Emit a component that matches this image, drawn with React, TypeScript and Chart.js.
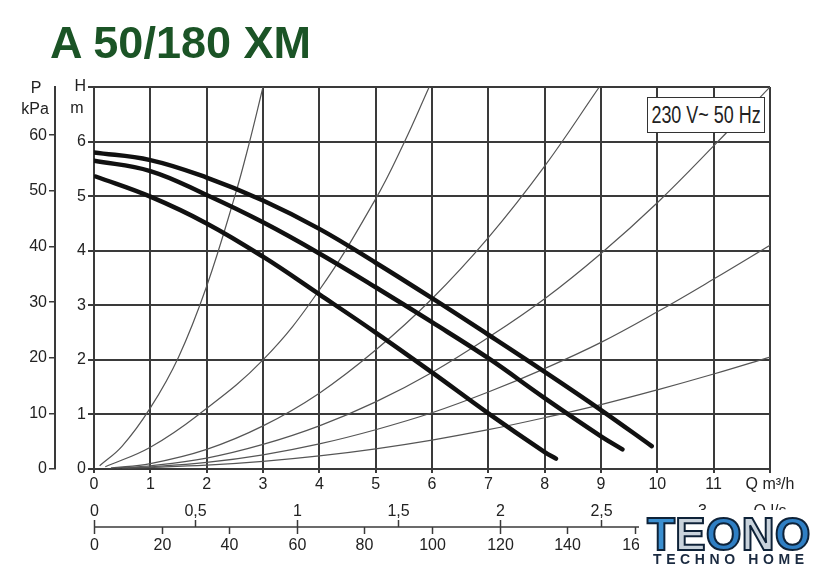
import React, { useEffect, useRef } from 'react';
import { Chart, registerables } from 'chart.js';

Chart.register(...registerables);

const FONT = '"Liberation Sans", Arial, Helvetica, sans-serif';
const TEXT = '#222';
const GRID = '#3a3a3a';

// Axis ticks
const flowTicks = [0, 1, 2, 3, 4, 5, 6, 7, 8, 9, 10, 11, 12]; // m³/h
const headTicks = [0, 1, 2, 3, 4, 5, 6, 7]; // m
const pressureTicks = [0, 10, 20, 30, 40, 50, 60]; // kPa
const litrePerSecTicks = [0, 0.5, 1, 1.5, 2, 2.5, 3];
const litrePerMinTicks = [0, 20, 40, 60, 80, 100, 120, 140, 160, 180];

// Pump curves: [Q m³/h, H m]
const pumpSpeed3: [number, number][] = [
  [0, 5.8], [1, 5.66], [2, 5.34], [3, 4.92], [4, 4.4], [5, 3.78],
  [6, 3.13], [7, 2.46], [8, 1.78], [9, 1.08], [9.9, 0.42],
];
const pumpSpeed2: [number, number][] = [
  [0, 5.65], [1, 5.46], [2, 5.02], [3, 4.52], [4, 3.95], [5, 3.33],
  [6, 2.69], [7, 2.03], [8, 1.3], [9, 0.6], [9.38, 0.36],
];
const pumpSpeed1: [number, number][] = [
  [0.03, 5.36], [1, 4.99], [2, 4.5], [3, 3.89], [4, 3.2], [5, 2.5],
  [6, 1.77], [7, 1.02], [8, 0.31], [8.2, 0.19],
];

// System curves (thin)
const system1: [number, number][] = [
  [0.1, 0.06], [0.5, 0.42], [1, 1.12], [1.5, 2.05], [2, 3.35], [2.5, 5.0], [2.75, 5.95], [3.0, 7.0],
];
const system2: [number, number][] = [
  [0.2, 0.04], [1, 0.4], [1.86, 1.0], [3, 2.0], [4, 3.28], [5, 4.95], [5.5, 5.97], [5.95, 7.0],
];
const system3: [number, number][] = [
  [0.3, 0.02], [1, 0.1], [2, 0.36], [3, 0.79], [4, 1.39], [5, 2.18], [6, 3.12], [7, 4.24], [8, 5.55], [8.97, 7.0],
];
const system4: [number, number][] = [
  [0.4, 0.02], [1, 0.06], [2, 0.2], [3, 0.45], [4, 0.79], [5, 1.23], [6, 1.77],
  [7, 2.41], [8, 3.12], [9, 3.95], [10, 4.88], [11, 5.92], [12, 7.0],
];
const system5: [number, number][] = [
  [0.5, 0.02], [1, 0.04], [2, 0.12], [3, 0.26], [4, 0.46], [5, 0.72], [6, 1.03],
  [7, 1.41], [8, 1.84], [9, 2.32], [10, 2.88], [11, 3.48], [12, 4.1],
];
const system6: [number, number][] = [
  [0.6, 0.02], [1, 0.03], [2, 0.07], [3, 0.14], [4, 0.24], [5, 0.37], [6, 0.53],
  [7, 0.72], [8, 0.94], [9, 1.18], [10, 1.45], [11, 1.74], [12, 2.05],
];

const pumpCurves = [pumpSpeed3, pumpSpeed2, pumpSpeed1];
const systemCurves = [system1, system2, system3, system4, system5, system6];

const M3H_PER_LS = 3.6;
const KPA_PER_M = 9.81;

const toXY = (pts: [number, number][]) => pts.map(([x, y]) => ({ x, y }));
const fmt = (v: number) => String(v).replace('.', ',');

const extrasPlugin = {
  id: 'extras',
  afterDraw(chart: any) {
    const { ctx, chartArea } = chart;
    const xs = chart.scales.x;
    const ys = chart.scales.y;
    const ps = chart.scales.p;
    ctx.save();
    ctx.fillStyle = TEXT;
    ctx.strokeStyle = GRID;
    ctx.font = `16px ${FONT}`;
    ctx.textAlign = 'center';
    ctx.textBaseline = 'alphabetic';
    const top = ys.getPixelForValue(7);
    ctx.fillText('P', ps.right - 19, top + 6);
    ctx.fillText('kPa', ps.right - 20, top + 27);
    ctx.fillText('m', ys.right - 17, top + 26);

    const lineY = chartArea.bottom + 58;
    ctx.lineWidth = 1.5;
    ctx.beginPath();
    ctx.moveTo(xs.getPixelForValue(0), lineY);
    ctx.lineTo(xs.getPixelForValue(12), lineY);
    ctx.stroke();

    litrePerSecTicks.forEach((v) => {
      const px = Math.round(xs.getPixelForValue(v * M3H_PER_LS)) + 0.5;
      ctx.beginPath();
      ctx.moveTo(px, lineY);
      ctx.lineTo(px, lineY - 7);
      ctx.stroke();
      ctx.fillText(fmt(v), px, lineY - 11);
    });
    ctx.fillText('Q l/s', xs.getPixelForValue(12), lineY - 11);

    litrePerMinTicks.forEach((v) => {
      const px = Math.round(xs.getPixelForValue((v * M3H_PER_LS) / 60)) + 0.5;
      ctx.beginPath();
      ctx.moveTo(px, lineY);
      ctx.lineTo(px, lineY + 7);
      ctx.stroke();
      ctx.fillText(String(v), px, lineY + 23);
    });
    ctx.restore();
  },
};

export default function App() {
  const canvasRef = useRef<HTMLCanvasElement | null>(null);

  useEffect(() => {
    if (!canvasRef.current) return;
    const tickFont = { family: FONT, size: 16 };
    const chart = new Chart(canvasRef.current, {
      type: 'line',
      data: {
        datasets: [
          ...pumpCurves.map((pts) => ({
            data: toXY(pts),
            borderColor: '#111',
            borderWidth: 4.5,
            pointRadius: 0,
            tension: 0.4,
            borderCapStyle: 'round' as const,
            fill: false,
            order: 0,
          })),
          ...systemCurves.map((pts) => ({
            data: toXY(pts),
            borderColor: '#555',
            borderWidth: 1.2,
            pointRadius: 0,
            tension: 0.4,
            fill: false,
            order: 1,
          })),
        ],
      },
      options: {
        responsive: false,
        animation: false,
        devicePixelRatio: 1,
        layout: { padding: { top: 87, right: 51, bottom: 0, left: 0 } },
        plugins: { legend: { display: false }, tooltip: { enabled: false }, title: { display: false } },
        scales: {
          x: {
            type: 'linear',
            position: 'bottom',
            min: 0,
            max: 12,
            afterBuildTicks: (s: any) => {
              s.ticks = flowTicks.map((v) => ({ value: v }));
            },
            afterFit: (s: any) => {
              s.height = 107;
            },
            ticks: {
              autoSkip: false,
              maxRotation: 0,
              padding: 2,
              color: TEXT,
              font: tickFont,
              callback: (v: any) => (v === 12 ? 'Q m³/h' : String(v)),
            },
            grid: { color: GRID, lineWidth: 2, tickLength: 4 },
            border: { color: GRID, width: 2 },
          },
          y: {
            type: 'linear',
            position: 'left',
            weight: 0,
            min: 0,
            max: 7,
            afterBuildTicks: (s: any) => {
              s.ticks = headTicks.map((v) => ({ value: v }));
            },
            afterFit: (s: any) => {
              s.width = 39;
            },
            ticks: {
              autoSkip: false,
              padding: 2,
              color: TEXT,
              font: tickFont,
              callback: (v: any) => (v === 7 ? 'H' : String(v)),
            },
            grid: { color: GRID, lineWidth: 2, tickLength: 6 },
            border: { color: GRID, width: 2 },
          },
          p: {
            type: 'linear',
            position: 'left',
            weight: 1,
            min: 0,
            max: 7 * KPA_PER_M,
            afterBuildTicks: (s: any) => {
              s.ticks = pressureTicks.map((v) => ({ value: v }));
            },
            afterFit: (s: any) => {
              s.width = 55;
            },
            ticks: { autoSkip: false, padding: 2, color: TEXT, font: tickFont },
            grid: { drawOnChartArea: false, color: GRID, lineWidth: 1.5, tickLength: 6 },
            border: { color: GRID, width: 2 },
          },
        },
      },
      plugins: [extrasPlugin],
    } as any);
    return () => chart.destroy();
  }, []);

  return (
    <div style={{ position: 'fixed', left: 0, top: 0, width: 821, height: 576, background: '#fff', overflow: 'hidden' }}>
      <canvas ref={canvasRef} width={821} height={576} style={{ position: 'absolute', left: 0, top: 0, display: 'block' }} />
      <div
        style={{
          position: 'absolute', left: 50, top: 20, fontFamily: FONT, fontWeight: 700,
          fontSize: 45, lineHeight: '45px', color: '#1b5426', whiteSpace: 'nowrap',
        }}
      >
        A 50/180 XM
      </div>
      <div
        style={{
          position: 'absolute', left: 647, top: 97, width: 116, height: 34, border: '1px solid #333',
          background: '#fff', display: 'flex', alignItems: 'center', justifyContent: 'center', overflow: 'hidden',
        }}
      >
        <span style={{ fontFamily: FONT, fontSize: 23, color: '#222', transform: 'scaleX(0.78)', whiteSpace: 'nowrap', display: 'inline-block' }}>
          230 V~ 50 Hz
        </span>
      </div>
      <div style={{ position: 'absolute', left: 639, top: 510, width: 182, height: 66, background: '#fff' }}>
        <div
          style={{
            position: 'absolute', left: 8, top: 1, fontFamily: FONT, fontWeight: 700, fontSize: 46,
            lineHeight: '46px', whiteSpace: 'nowrap', WebkitTextStroke: '2px #0e2238',
          }}
        >
          <span style={{ color: '#3b8fd0' }}>T</span>
          <span style={{ color: '#c9d3dc' }}>E</span>
          <span style={{ color: '#2f7fc4' }}>O</span>
          <span style={{ color: '#c9d3dc' }}>N</span>
          <span style={{ color: '#2f7fc4' }}>O</span>
        </div>
        <div
          style={{
            position: 'absolute', left: 14, top: 42, fontFamily: FONT, fontWeight: 700, fontSize: 14,
            lineHeight: '14px', letterSpacing: '4.6px', color: '#1a2a40', whiteSpace: 'nowrap',
          }}
        >
          TECHNO HOME
        </div>
      </div>
    </div>
  );
}
